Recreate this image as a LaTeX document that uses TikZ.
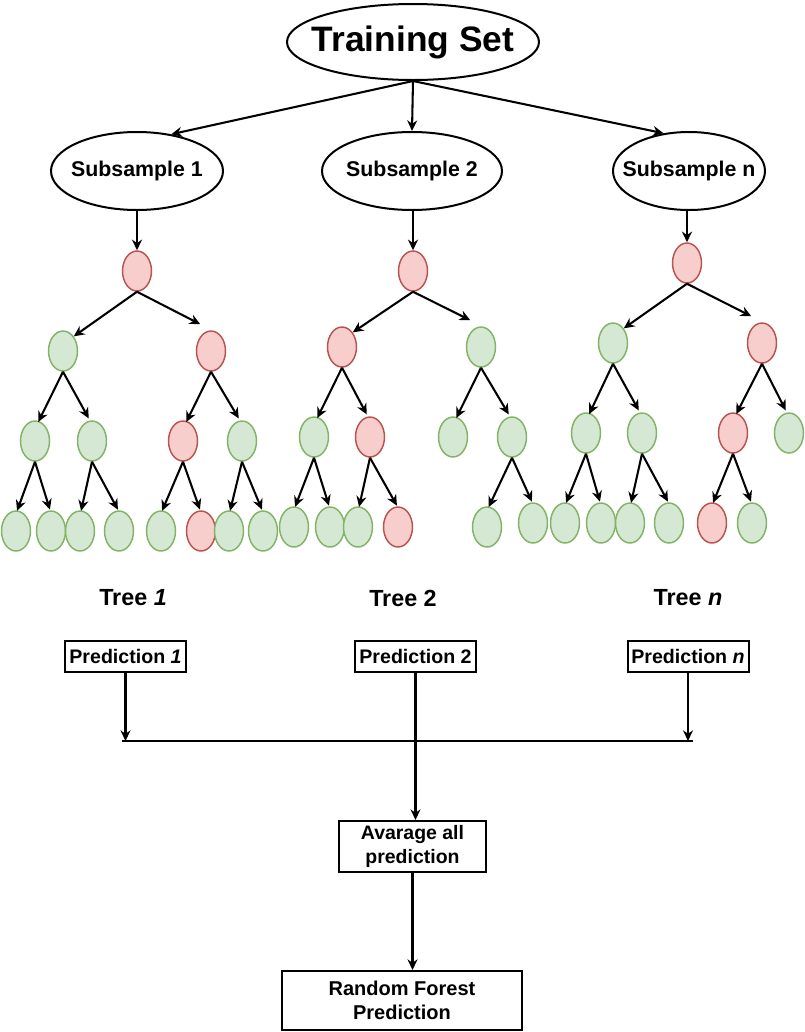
\documentclass[tikz,border=0pt]{standalone}
\usepackage{fontspec}
\setmainfont{Liberation Sans}
\usetikzlibrary{shapes.geometric,arrows.meta,calc}
\definecolor{rfill}{HTML}{F8CECC}
\definecolor{rdraw}{HTML}{B85450}
\definecolor{gfill}{HTML}{D5E8D4}
\definecolor{gdraw}{HTML}{82B366}
\newcommand\tedge[3]{\draw[arr] (#1.south) -- ($(#2.north)!#3!(#2.north east)$);}
\begin{document}
\begin{tikzpicture}[x=0.75pt,y=-0.75pt,
  bigell/.style={ellipse, draw, line width=1.5pt, inner sep=0pt},
  rn/.style={ellipse, draw=rdraw, fill=rfill, line width=1.1pt, minimum width=21.75pt, minimum height=30pt, inner sep=0pt},
  gn/.style={ellipse, draw=gdraw, fill=gfill, line width=1.1pt, minimum width=21.75pt, minimum height=30pt, inner sep=0pt},
  arr/.style={-{Stealth[length=8pt,width=7.5pt]}, line width=1.55pt},
  plain/.style={line width=1.55pt},
  boxn/.style={draw, line width=1.5pt, inner sep=0pt, align=center},
  treelbl/.style={font=\bfseries\fontsize{17.5}{21}\selectfont}
]
\useasboundingbox (0,0) rectangle (804,1032);

% top ellipses
\node[bigell, minimum width=189pt, minimum height=57pt,
  label={[font=\bfseries\fontsize{26.5}{30}\selectfont]center:Training Set}] (ts) at (413,42) {};
\node[bigell, minimum width=129pt, minimum height=58.5pt,
  label={[font=\bfseries\fontsize{16}{19}\selectfont]center:Subsample 1}] (s1) at (137,171) {};
\node[bigell, minimum width=135pt, minimum height=58.5pt,
  label={[font=\bfseries\fontsize{16}{19}\selectfont]center:Subsample 2}] (s2) at (412,171) {};
\node[bigell, minimum width=114pt, minimum height=58.5pt,
  label={[font=\bfseries\fontsize{16}{19}\selectfont]center:Subsample n}] (sn) at (689,171) {};

\draw[arr] (ts.south) -- (s1.47);
\draw[arr] (ts.south) -- (s2.north);
\draw[arr] (ts.south) -- (sn.124);

% tree 1
\node[rn] (a0) at (137,271) {};
\node[gn] (a1) at (63,351) {};
\node[rn] (a2) at (211,351) {};
\node[gn] (a3) at (35,441) {};
\node[gn] (a4) at (92,441) {};
\node[rn] (a5) at (183,441) {};
\node[gn] (a6) at (242,441) {};
\node[gn] (a7) at (16,531) {};
\node[gn] (a8) at (51,531) {};
\node[gn] (a9) at (80,531) {};
\node[gn] (a10) at (119,531) {};
\node[gn] (a11) at (161,531) {};
\node[rn] (a12) at (201,531) {};
\node[gn] (a13) at (229,531) {};
\node[gn] (a14) at (263,531) {};

% tree 2
\node[rn] (b0) at (413,271) {};
\node[rn] (b1) at (342,347) {};
\node[gn] (b2) at (481,347) {};
\node[gn] (b3) at (314,437) {};
\node[rn] (b4) at (370,437) {};
\node[gn] (b5) at (453,437) {};
\node[gn] (b6) at (512,437) {};
\node[gn] (b7) at (294,527) {};
\node[gn] (b8) at (330,527) {};
\node[gn] (b9) at (358,527) {};
\node[rn] (b10) at (398,527) {};
\node[gn] (b11) at (487,527) {};
\node[gn] (b12) at (533,523) {};

% tree n
\node[rn] (c0) at (687,263) {};
\node[gn] (c1) at (613,343) {};
\node[rn] (c2) at (762,343) {};
\node[gn] (c3) at (586,433) {};
\node[gn] (c4) at (642,433) {};
\node[rn] (c5) at (733,433) {};
\node[gn] (c6) at (789,433) {};
\node[gn] (c7) at (565,523) {};
\node[gn] (c8) at (601,523) {};
\node[gn] (c9) at (630,523) {};
\node[gn] (c10) at (669,523) {};
\node[rn] (c11) at (712,523) {};
\node[gn] (c12) at (752,523) {};

% subsample -> roots
\draw[arr] (a0.north |- s1.south) -- (a0.north);
\draw[arr] (b0.north |- s2.south) -- (b0.north);
\draw[arr] (c0.north |- sn.south) -- (c0.north);

% tree edges
\tedge{a0}{a1}{1}   \tedge{a0}{a2}{-1}
\tedge{a1}{a3}{0.3} \tedge{a1}{a4}{-0.3}
\tedge{a2}{a5}{0.3} \tedge{a2}{a6}{-0.3}
\tedge{a3}{a7}{0.1} \tedge{a3}{a8}{-0.1}
\tedge{a4}{a9}{0.1} \tedge{a4}{a10}{-0.1}
\tedge{a5}{a11}{0.1} \tedge{a5}{a12}{-0.1}
\tedge{a6}{a13}{0.1} \tedge{a6}{a14}{-0.1}

\tedge{b0}{b1}{1}   \tedge{b0}{b2}{-1}
\tedge{b1}{b3}{0.3} \tedge{b1}{b4}{-0.3}
\tedge{b2}{b5}{0.3} \tedge{b2}{b6}{-0.3}
\tedge{b3}{b7}{0.1} \tedge{b3}{b8}{-0.1}
\tedge{b4}{b9}{0.1} \tedge{b4}{b10}{-0.1}
\tedge{b6}{b11}{0.15} \tedge{b6}{b12}{-0.1}

\tedge{c0}{c1}{1}   \tedge{c0}{c2}{-1}
\tedge{c1}{c3}{0.3} \tedge{c1}{c4}{-0.3}
\tedge{c2}{c5}{0.3} \tedge{c2}{c6}{-0.3}
\tedge{c3}{c7}{0.1} \tedge{c3}{c8}{-0.1}
\tedge{c4}{c9}{0.1} \tedge{c4}{c10}{-0.1}
\tedge{c5}{c11}{0.1} \tedge{c5}{c12}{-0.1}

% tree labels
\node[treelbl] (t1) at (133,598) {Tree \textit{1}};
\node[treelbl] (t2) at (403,598) {Tree 2};
\node[treelbl] (tn) at (688,598) {Tree \textit{n}};

% predictions
\node[boxn, minimum width=90.75pt, minimum height=23.25pt, font=\bfseries\fontsize{14.7}{17}\selectfont] (p1) at (125.5,656) {Prediction \textit{1}};
\node[boxn, minimum width=90.75pt, minimum height=23.25pt, font=\bfseries\fontsize{14.7}{17}\selectfont] (p2) at (415.5,656) {Prediction 2};
\node[boxn, minimum width=90.75pt, minimum height=23.25pt, font=\bfseries\fontsize{14.7}{17}\selectfont] (pn) at (688,656) {Prediction \textit{n}};

\coordinate (ml) at (122,741);
\coordinate (mr) at (693,741);
\draw[plain] (ml) -- (mr);
\draw[arr] (p1.south) -- (p1.south |- ml);
\draw[arr] (pn.south) -- (pn.south |- ml);

\node[boxn, minimum width=110.25pt, minimum height=38.25pt, font=\bfseries\fontsize{14.6}{18}\selectfont] (avg) at (412.5,846.5) {Avarage all\\prediction};
\node[boxn, minimum width=180pt, minimum height=44.25pt, font=\bfseries\fontsize{15}{18}\selectfont] (rfp) at (402,1000.5) {Random Forest\\Prediction};

\draw[arr] (p2.south) -- (p2.south |- avg.north);
\draw[arr] (avg.south) -- (avg.south |- rfp.north);
\end{tikzpicture}
\end{document}
